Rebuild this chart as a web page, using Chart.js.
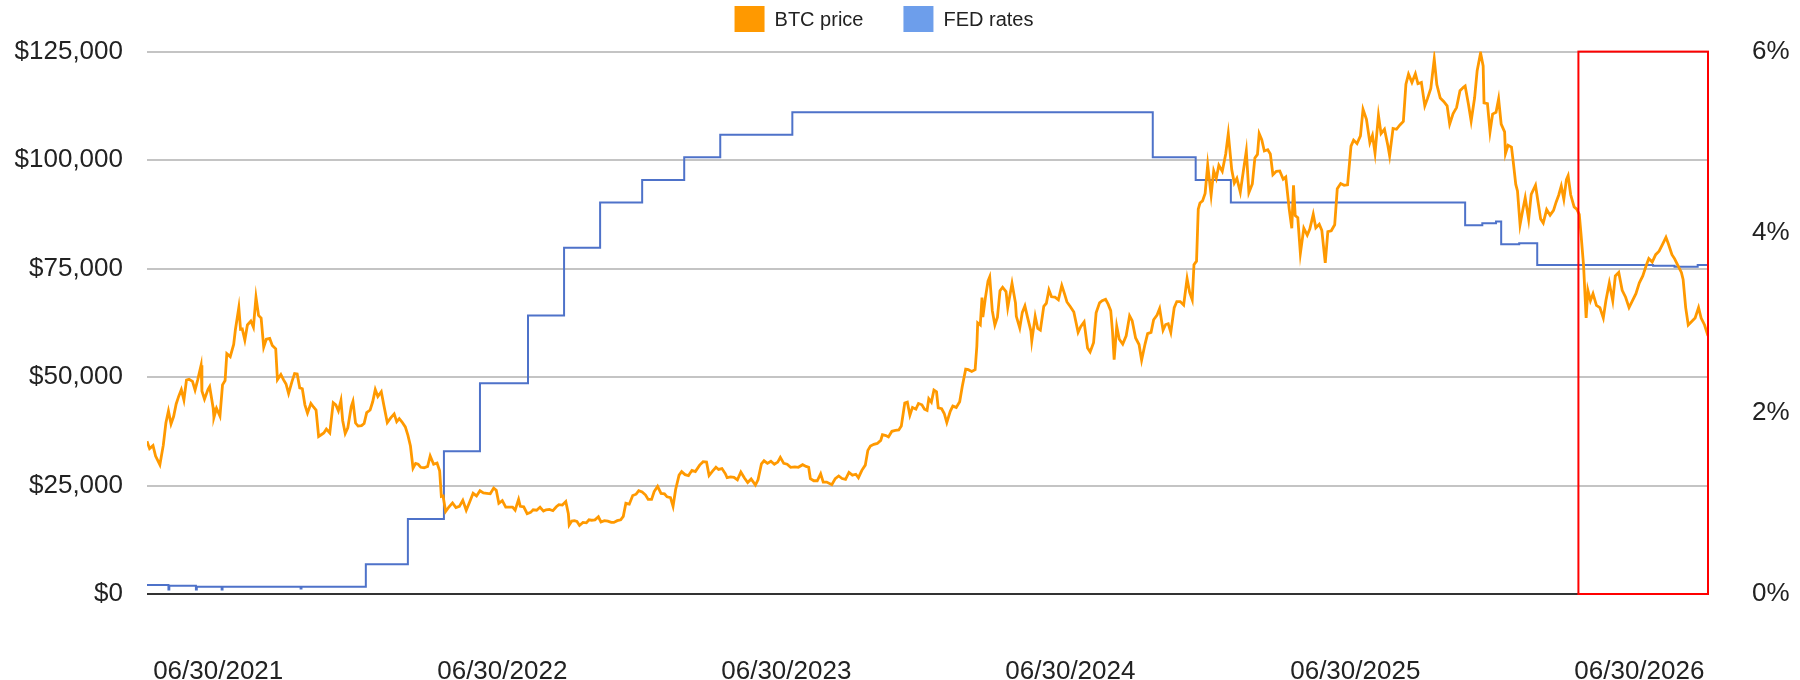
<!DOCTYPE html>
<html>
<head>
<meta charset="utf-8">
<title>BTC price vs FED rates</title>
<script src="https://cdn.jsdelivr.net/npm/chart.js@4.4.1/dist/chart.umd.min.js"></script>
<style>
  html, body { margin: 0; padding: 0; background: #fff; }
  #wrap { width: 1800px; height: 680px; }
</style>
</head>
<body>
<div id="wrap"><canvas id="btcChart" width="1800" height="680"></canvas></div>
<script>
// BTC close (one row per month)
const btcDates = [
    '2021-07-05','2021-07-08','2021-07-12','2021-07-15','2021-07-20','2021-07-24','2021-07-27','2021-07-30',
    '2021-08-02','2021-08-05','2021-08-08','2021-08-11','2021-08-14','2021-08-17','2021-08-20','2021-08-23','2021-08-27','2021-08-30',
    '2021-09-02','2021-09-06','2021-09-07','2021-09-10','2021-09-14','2021-09-16','2021-09-20','2021-09-21','2021-09-24','2021-09-28',
    '2021-10-01','2021-10-04','2021-10-06','2021-10-10','2021-10-14','2021-10-16','2021-10-20','2021-10-22','2021-10-24','2021-10-27','2021-10-30',
    '2021-11-03','2021-11-06','2021-11-09','2021-11-12','2021-11-15','2021-11-18','2021-11-21','2021-11-25','2021-11-28',
    '2021-12-02','2021-12-04','2021-12-08','2021-12-11','2021-12-14','2021-12-17','2021-12-21','2021-12-24','2021-12-27','2021-12-30',
    '2022-01-02','2022-01-05','2022-01-08','2022-01-12','2022-01-15','2022-01-18','2022-01-21','2022-01-24','2022-01-27','2022-01-30',
    '2022-02-03','2022-02-07','2022-02-10','2022-02-13','2022-02-16','2022-02-18','2022-02-21','2022-02-24','2022-02-28',
    '2022-03-02','2022-03-05','2022-03-08','2022-03-12','2022-03-15','2022-03-18','2022-03-22','2022-03-25','2022-03-28','2022-03-31',
    '2022-04-04','2022-04-07','2022-04-11','2022-04-15','2022-04-19','2022-04-22','2022-04-25','2022-04-28',
    '2022-05-02','2022-05-05','2022-05-08','2022-05-11','2022-05-14','2022-05-17','2022-05-20','2022-05-24','2022-05-28','2022-05-31',
    '2022-06-04','2022-06-08','2022-06-11','2022-06-13','2022-06-15','2022-06-18','2022-06-22','2022-06-26','2022-06-30',
    '2022-07-04','2022-07-08','2022-07-12','2022-07-16','2022-07-20','2022-07-24','2022-07-28',
    '2022-08-01','2022-08-05','2022-08-09','2022-08-13','2022-08-16','2022-08-19','2022-08-23','2022-08-27','2022-08-31',
    '2022-09-04','2022-09-07','2022-09-11','2022-09-13','2022-09-17','2022-09-21','2022-09-25','2022-09-28',
    '2022-10-02','2022-10-06','2022-10-10','2022-10-13','2022-10-17','2022-10-21','2022-10-25','2022-10-28',
    '2022-11-01','2022-11-05','2022-11-08','2022-11-09','2022-11-12','2022-11-15','2022-11-18','2022-11-21','2022-11-25','2022-11-29',
    '2022-12-02','2022-12-05','2022-12-09','2022-12-13','2022-12-16','2022-12-20','2022-12-24','2022-12-28','2022-12-31',
    '2023-01-04','2023-01-08','2023-01-11','2023-01-14','2023-01-18','2023-01-22','2023-01-26','2023-01-29',
    '2023-02-02','2023-02-06','2023-02-09','2023-02-13','2023-02-16','2023-02-20','2023-02-24','2023-02-28',
    '2023-03-03','2023-03-07','2023-03-10','2023-03-13','2023-03-17','2023-03-20','2023-03-24','2023-03-28',
    '2023-04-01','2023-04-05','2023-04-10','2023-04-14','2023-04-18','2023-04-21','2023-04-25','2023-04-29',
    '2023-05-02','2023-05-06','2023-05-10','2023-05-12','2023-05-16','2023-05-20','2023-05-24','2023-05-28',
    '2023-06-01','2023-06-05','2023-06-09','2023-06-14','2023-06-17','2023-06-21','2023-06-24','2023-06-28',
    '2023-07-02','2023-07-06','2023-07-10','2023-07-13','2023-07-17','2023-07-21','2023-07-25','2023-07-30',
    '2023-08-03','2023-08-08','2023-08-12','2023-08-15','2023-08-17','2023-08-21','2023-08-25','2023-08-29',
    '2023-09-01','2023-09-05','2023-09-11','2023-09-15','2023-09-19','2023-09-23','2023-09-27',
    '2023-10-01','2023-10-05','2023-10-09','2023-10-12','2023-10-16','2023-10-20','2023-10-23','2023-10-26','2023-10-30',
    '2023-11-03','2023-11-07','2023-11-09','2023-11-13','2023-11-16','2023-11-20','2023-11-24','2023-11-28',
    '2023-12-01','2023-12-05','2023-12-08','2023-12-11','2023-12-14','2023-12-18','2023-12-21','2023-12-25','2023-12-28','2023-12-31',
    '2024-01-02','2024-01-05','2024-01-08','2024-01-11','2024-01-13','2024-01-17','2024-01-20','2024-01-23','2024-01-27','2024-01-30',
    '2024-02-03','2024-02-07','2024-02-10','2024-02-14','2024-02-17','2024-02-21','2024-02-25','2024-02-27','2024-02-28',
    '2024-03-02','2024-03-04','2024-03-05','2024-03-08','2024-03-11','2024-03-13','2024-03-16','2024-03-19','2024-03-22','2024-03-25','2024-03-28',
    '2024-04-01','2024-04-03','2024-04-08','2024-04-12','2024-04-13','2024-04-17','2024-04-20','2024-04-23','2024-04-26','2024-04-30',
    '2024-05-01','2024-05-05','2024-05-08','2024-05-11','2024-05-15','2024-05-18','2024-05-21','2024-05-24','2024-05-28',
    '2024-06-01','2024-06-05','2024-06-08','2024-06-11','2024-06-15','2024-06-19','2024-06-24','2024-06-27',
    '2024-07-01','2024-07-05','2024-07-08','2024-07-12','2024-07-15','2024-07-19','2024-07-22','2024-07-26','2024-07-29',
    '2024-08-01','2024-08-03','2024-08-05','2024-08-08','2024-08-11','2024-08-15','2024-08-19','2024-08-23','2024-08-26','2024-08-30',
    '2024-09-03','2024-09-06','2024-09-10','2024-09-13','2024-09-17','2024-09-20','2024-09-24','2024-09-27',
    '2024-10-01','2024-10-04','2024-10-07','2024-10-10','2024-10-14','2024-10-17','2024-10-21','2024-10-25','2024-10-29',
    '2024-11-01','2024-11-04','2024-11-06','2024-11-09','2024-11-11','2024-11-13','2024-11-16','2024-11-19','2024-11-22','2024-11-26','2024-11-29',
    '2024-12-02','2024-12-05','2024-12-09','2024-12-13','2024-12-16','2024-12-20','2024-12-23','2024-12-26','2024-12-30',
    '2025-01-03','2025-01-06','2025-01-09','2025-01-13','2025-01-16','2025-01-19','2025-01-21','2025-01-24','2025-01-27','2025-01-31',
    '2025-02-03','2025-02-06','2025-02-10','2025-02-14','2025-02-18','2025-02-21','2025-02-25','2025-02-28',
    '2025-03-02','2025-03-04','2025-03-07','2025-03-10','2025-03-14','2025-03-18','2025-03-21','2025-03-25','2025-03-28',
    '2025-04-01','2025-04-04','2025-04-08','2025-04-11','2025-04-15','2025-04-19','2025-04-22','2025-04-26','2025-04-30',
    '2025-05-04','2025-05-08','2025-05-11','2025-05-15','2025-05-19','2025-05-22','2025-05-26','2025-05-30',
    '2025-06-02','2025-06-05','2025-06-09','2025-06-12','2025-06-16','2025-06-20','2025-06-22','2025-06-26','2025-06-30',
    '2025-07-04','2025-07-08','2025-07-11','2025-07-14','2025-07-18','2025-07-22','2025-07-25','2025-07-29',
    '2025-08-02','2025-08-05','2025-08-09','2025-08-13','2025-08-16','2025-08-20','2025-08-24','2025-08-28','2025-08-31',
    '2025-09-04','2025-09-08','2025-09-12','2025-09-16','2025-09-18','2025-09-22','2025-09-25','2025-09-29',
    '2025-10-02','2025-10-06','2025-10-09','2025-10-10','2025-10-14','2025-10-17','2025-10-20','2025-10-24','2025-10-27','2025-10-30',
    '2025-11-03','2025-11-04','2025-11-07','2025-11-11','2025-11-13','2025-11-16','2025-11-18','2025-11-21','2025-11-24','2025-11-27',
    '2025-12-01','2025-12-04','2025-12-09','2025-12-12','2025-12-15','2025-12-18','2025-12-22','2025-12-26','2025-12-30',
    '2026-01-02','2026-01-05','2026-01-08','2026-01-11','2026-01-14','2026-01-16','2026-01-19','2026-01-23','2026-01-26','2026-01-29','2026-01-31',
    '2026-02-03','2026-02-06','2026-02-08','2026-02-11','2026-02-14','2026-02-18','2026-02-22','2026-02-26',
    '2026-03-01','2026-03-05','2026-03-09','2026-03-12','2026-03-16','2026-03-20','2026-03-24','2026-03-28',
    '2026-04-01','2026-04-05','2026-04-09','2026-04-13','2026-04-17','2026-04-20','2026-04-24','2026-04-28',
    '2026-05-02','2026-05-06','2026-05-10','2026-05-13','2026-05-17','2026-05-20','2026-05-24','2026-05-28','2026-05-30',
    '2026-06-02','2026-06-05','2026-06-09','2026-06-13','2026-06-17','2026-06-20','2026-06-24','2026-06-28'
];
const btcPrices = [
    35200,33500,34200,31800,29800,34300,39400,42200,
    39200,40900,43800,45600,47100,44700,49300,49500,49000,47000,
    49300,52700,46800,44900,47100,47800,43000,40700,42800,41000,
    48200,49200,55400,54700,57500,60900,66000,61000,61100,58500,62000,
    62900,61500,68400,64200,63600,56900,58700,58900,57300,
    56500,49400,50600,49400,48400,46200,49000,50800,50700,47500,
    47300,43600,41700,43900,43100,42400,36300,36700,37100,38000,
    37100,44100,43600,42200,44600,40000,37000,38300,43200,
    44400,39400,38700,38800,39300,41800,42400,44300,47100,45500,
    46600,43500,39500,40600,41500,39700,40400,39700,
    38500,36600,34100,29000,30100,29900,29200,29100,29400,31800,
    29900,30200,28400,22500,22600,19000,20100,21000,19900,
    20200,21600,19300,21200,23200,22600,23800,
    23300,23200,23100,24400,23900,20900,21500,20000,20000,
    20000,19300,21800,20200,20100,18500,18800,19400,
    19300,20000,19100,19400,19500,19200,20100,20600,
    20500,21300,18500,15900,16800,16900,16700,15800,16500,16400,
    17100,17000,17100,17800,16600,16900,16800,16500,16500,
    16900,17100,17900,20900,20700,22700,23000,23800,
    23500,22800,21800,21800,23600,24800,23200,23100,
    22400,22200,20200,24100,27400,28200,27500,27300,
    28500,28200,29700,30500,30400,27300,28300,29200,
    28700,28900,27700,26800,27000,26900,26300,28100,
    26800,25700,26500,25100,26300,30000,30700,30100,
    30600,29900,30400,31500,30100,29900,29200,29300,
    29200,29800,29400,29200,26600,26100,26100,27700,
    25800,25800,25200,26600,27200,26600,26400,
    28000,27400,27600,26800,28500,29700,33100,34100,34500,
    34700,35400,36700,36500,36200,37500,37700,37800,
    38700,44000,44200,41200,43000,42600,43900,43600,42600,42300,
    45000,44200,47000,46600,42900,42700,41600,39500,42100,43300,
    43000,44300,47800,51800,51700,51300,51700,57100,62500,
    62000,68300,63800,68300,72100,73100,65300,62000,63800,69900,70700,
    69700,66000,71600,67100,64000,61300,64900,66400,63800,60600,
    58300,64000,61200,60800,66300,67000,70100,68500,68400,
    67800,71100,69300,67300,66200,65000,60300,61600,
    62700,56700,55800,57900,64800,67100,67600,67900,66800,
    65300,60700,54000,61700,58700,57600,59500,64100,63000,59000,
    57500,53900,57600,60000,60300,63200,64300,65800,
    60800,62100,62300,60300,66000,67400,67400,66600,72700,
    69500,67800,75900,76700,88700,90100,90600,92300,98900,91900,97500,
    95800,98800,97400,101400,106100,97800,94700,95800,92600,
    98100,102100,92500,94500,100500,101300,106100,104700,102100,102400,
    101400,96600,97400,97500,95600,96100,88700,84300,
    94200,87200,86700,78500,84300,82700,84100,87500,84400,
    85200,83800,76300,83500,83700,85100,93400,94600,94200,
    94300,103200,104600,103800,105600,111700,109400,104000,
    105700,101600,110300,106100,107100,103300,101000,107300,107100,
    108100,108900,117500,119800,117900,119900,117600,117900,
    112500,114100,116500,123300,117400,114300,113500,112500,108300,
    110700,112100,116000,116800,117100,112700,109000,114300,
    120600,124700,121700,113200,113000,106500,110600,111000,114100,108300,
    106500,101500,103400,103000,99700,94400,92900,85100,88300,91300,
    86300,92100,94200,90300,86400,85500,88600,87300,88400,
    90300,91900,94000,91000,95500,96400,92000,89200,88700,87500,83000,
    75700,63600,70000,67600,69200,66500,66000,63600,
    67600,71700,67600,73300,74100,70000,68400,66000,
    67600,69200,71700,73300,75700,77300,76500,78200,
    79000,80600,82200,80600,78200,77300,75700,74100,72500,
    66000,62000,62800,63600,66000,63600,62000,59500
];

// effective FED funds rate, % (each value holds until the next date)
const fedDates = [
    '2021-07-05','2021-07-30','2021-07-31','2021-08-31','2021-09-01','2021-09-30','2021-10-01','2021-12-31','2022-01-01',
    '2022-03-17','2022-05-05','2022-06-16','2022-07-28','2022-09-22','2022-11-03','2022-12-15',
    '2023-02-02','2023-03-23','2023-05-04','2023-07-27',
    '2024-09-19','2024-11-08','2024-12-19',
    '2025-09-18','2025-10-08','2025-10-24','2025-10-30','2025-11-20','2025-12-11',
    '2026-04-25','2026-05-20','2026-06-16','2026-06-28'
];
const fedRates = [
    0.10, 0.05, 0.09, 0.05, 0.08, 0.05, 0.08, 0.06, 0.08,
    0.33, 0.83, 1.58, 2.33, 3.08, 3.83, 4.33,
    4.58, 4.83, 5.08, 5.33,
    4.83, 4.58, 4.33,
    4.08, 4.10, 4.12, 3.87, 3.88, 3.64,
    3.63, 3.62, 3.64, 3.64
];

const xTickDates = ['2021-09-26', '2022-08-23', '2023-07-20', '2024-06-15', '2025-05-13', '2026-04-09'];
const xTickLabels = ['06/30/2021', '06/30/2022', '06/30/2023', '06/30/2024', '06/30/2025', '06/30/2026'];
const priceMax = 125000, priceStep = 25000;
const rateMax = 6, rateStep = 2;
const highlightFrom = '2026-01-28';

if (btcDates.length !== btcPrices.length) throw new Error('btc arrays differ: ' + btcDates.length + ' / ' + btcPrices.length);
if (fedDates.length !== fedRates.length) throw new Error('fed arrays differ');

const origin = Date.parse(btcDates[0]);
function dayOf(s) { return (Date.parse(s) - origin) / 86400000; }
const lastDay = dayOf(btcDates[btcDates.length - 1]);

const FONT = "'Liberation Sans', Arial, sans-serif";
const legendColors = ['#ff9900', '#6d9eeb'];

const overlay = {
    id: 'overlay',
    afterDatasetsDraw(chart) {
        const { ctx, scales } = chart;
        const x0 = scales.x.getPixelForValue(dayOf(highlightFrom));
        const x1 = scales.x.getPixelForValue(lastDay);
        const y0 = scales.y.getPixelForValue(priceMax);
        const y1 = scales.y.getPixelForValue(0);
        ctx.save();
        ctx.strokeStyle = '#ff0000';
        ctx.lineWidth = 2;
        ctx.strokeRect(x0, y0, x1 - x0, y1 - y0);
        ctx.restore();
    },
    afterDraw(chart) {
        // legend drawn by hand so it can sit snug above the plot
        const ctx = chart.ctx;
        ctx.save();
        ctx.font = '20px ' + FONT;
        ctx.textBaseline = 'middle';
        const items = chart.data.datasets.map((ds, i) => ({ text: ds.label, color: legendColors[i], w: ctx.measureText(ds.label).width }));
        const total = items.reduce((s, it) => s + 40 + it.w, 0) + 40 * (items.length - 1);
        let x = 884 - total / 2;
        items.forEach(it => {
            ctx.fillStyle = it.color;
            ctx.fillRect(x, 6, 30, 26);
            ctx.fillStyle = '#222';
            ctx.fillText(it.text, x + 40, 20);
            x += 40 + it.w + 40;
        });
        ctx.restore();
    }
};

const ctx = document.getElementById('btcChart').getContext('2d');
const chart = new Chart(ctx, {
    type: 'line',
    data: {
        datasets: [{
            label: 'BTC price',
            data: btcDates.map((d, i) => ({ x: dayOf(d), y: btcPrices[i] })),
            borderColor: '#ff9900',
            backgroundColor: '#ff9900',
            borderWidth: 2.8,
            pointRadius: 0,
            tension: 0,
            yAxisID: 'y'
        },
        {
            label: 'FED rates',
            data: fedDates.map((d, i) => ({ x: dayOf(d), y: fedRates[i] })),
            borderColor: '#4e72c9',
            backgroundColor: '#6d9eeb',
            borderWidth: 2,
            pointRadius: 0,
            stepped: true,
            yAxisID: 'y1'
        }]
    },
    options: {
        responsive: false,
        animation: false,
        devicePixelRatio: 1,
        layout: { padding: { top: 44, left: 0, right: 0, bottom: 0 } },
        plugins: {
            legend: { display: false },
            tooltip: { enabled: false }
        },
        scales: {
            x: {
                type: 'linear',
                min: 0,
                max: lastDay,
                grid: { display: false },
                border: { display: false },
                afterBuildTicks: function(scale) {
                    scale.ticks = xTickDates.map(d => ({ value: dayOf(d) }));
                },
                afterFit: function(scale) { scale.height = 86; },
                ticks: {
                    autoSkip: false,
                    maxRotation: 0,
                    padding: 54,
                    color: '#222',
                    font: { family: FONT, size: 26 },
                    callback: function(value) {
                        const i = xTickDates.findIndex(d => Math.abs(dayOf(d) - value) < 0.5);
                        return i >= 0 ? xTickLabels[i] : '';
                    }
                }
            },
            y: {
                position: 'left',
                min: 0,
                max: priceMax,
                afterFit: function(scale) { scale.width = 147; },
                border: { display: false },
                grid: {
                    drawTicks: false,
                    lineWidth: 2,
                    color: c => c.tick.value === 0 ? '#333333' : '#c4c4c4'
                },
                ticks: {
                    stepSize: priceStep,
                    padding: 24,
                    color: '#222',
                    font: { family: FONT, size: 26 },
                    callback: v => '$' + v.toLocaleString('en-US')
                }
            },
            y1: {
                position: 'right',
                min: 0,
                max: rateMax,
                afterFit: function(scale) { scale.width = 92; },
                border: { display: false },
                grid: { display: false },
                ticks: {
                    stepSize: rateStep,
                    padding: 36,
                    color: '#222',
                    font: { family: FONT, size: 26 },
                    callback: v => v + '%'
                }
            }
        }
    },
    plugins: [overlay]
});
</script>
</body>
</html>
